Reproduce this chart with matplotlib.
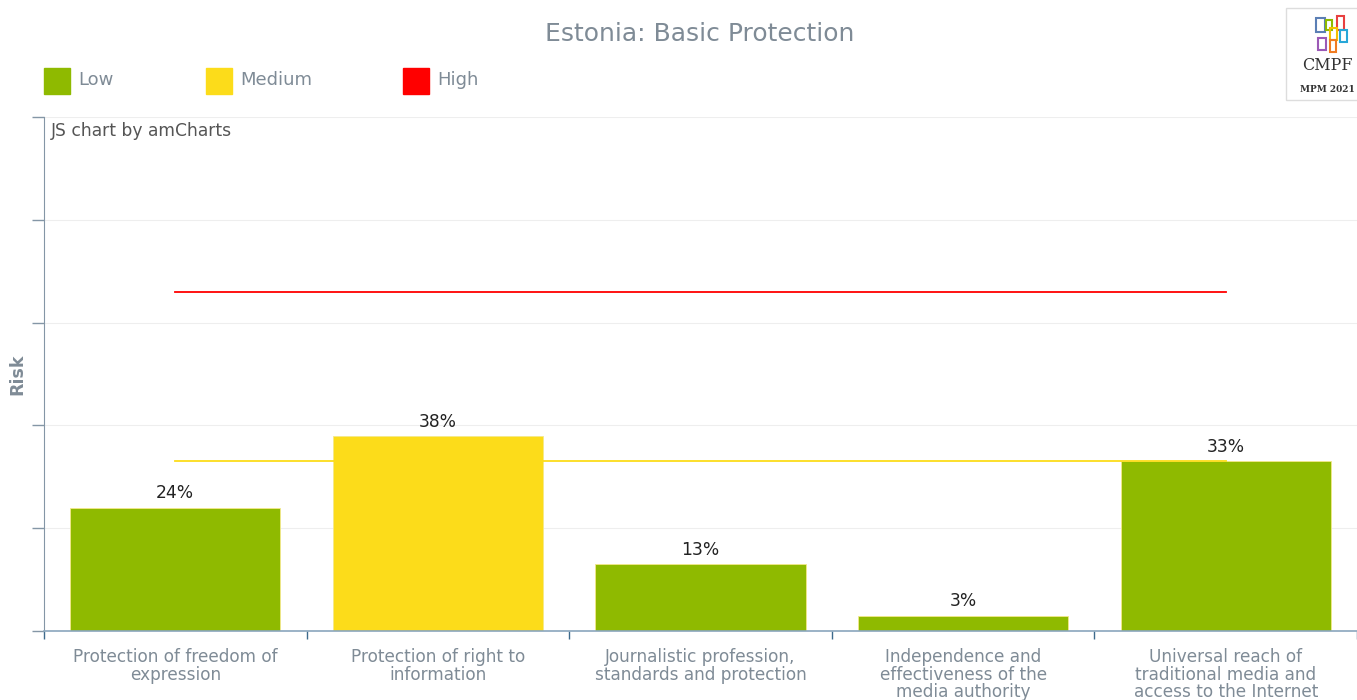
import matplotlib
matplotlib.use("Agg")
import matplotlib.pyplot as plt
from matplotlib.patches import Rectangle

categories = [
    "Protection of freedom of\nexpression",
    "Protection of right to\ninformation",
    "Journalistic profession,\nstandards and protection",
    "Independence and\neffectiveness of the\nmedia authority",
    "Universal reach of\ntraditional media and\naccess to the Internet",
]
values = [24, 38, 13, 3, 33]
levels = ["Low", "Medium", "Low", "Low", "Low"]
medium_threshold = 33
high_threshold = 66

GREEN = "#8fba00"
YELLOW = "#fcdc1a"
RED = "#ff0000"
TXT = "#7f8b96"
AXIS = "#8496a6"
level_color = {"Low": GREEN, "Medium": YELLOW, "High": RED}

W, H = 1357, 700
fig = plt.figure(figsize=(W / 100, H / 100), dpi=100, facecolor="white")
ax = fig.add_axes([44 / W, 69 / H, (W - 44) / W, 514 / H])

x = list(range(len(values)))
ax.bar(x, values, width=0.8, color=[level_color[l] for l in levels],
       edgecolor="#f4e98a", linewidth=0.6, zorder=2)
for xi, v in zip(x, values):
    ax.text(xi, v + 1.0, f"{v}%", ha="center", va="bottom", fontsize=12.3,
            color="#222222")

ax.plot([x[0], x[-1]], [medium_threshold] * 2, color=YELLOW, lw=1.3, zorder=3)
ax.plot([x[0], x[-1]], [high_threshold] * 2, color=RED, lw=1.3, zorder=3)

ax.set_xlim(-0.5, len(values) - 0.5)
ax.set_ylim(0, 100)
ax.set_yticks([0, 20, 40, 60, 80, 100])
ax.set_yticklabels([])
ax.grid(axis="y", color="#eeeeee", lw=0.8, zorder=0)
ax.set_axisbelow(True)

ax.set_xticks([i - 0.5 for i in range(len(values) + 1)])
ax.set_xticklabels([])
ax.tick_params(axis="x", direction="out", length=6, color="#3d6a8c", width=1)
ax.tick_params(axis="y", direction="out", length=9, color=AXIS, width=1)
for s in ("top", "right"):
    ax.spines[s].set_visible(False)
ax.spines["left"].set_color(AXIS)
ax.spines["bottom"].set_color("#8aa6bd")
ax.spines["bottom"].set_linewidth(1.2)

for xi, lab in zip(x, categories):
    ax.text(xi, -3.3, lab, ha="center", va="top", fontsize=12.2, color=TXT,
            linespacing=0.98, clip_on=False)

ax.set_ylabel("Risk", fontsize=12.5, color=TXT, fontweight="bold")
ax.yaxis.set_label_coords(-18 / (W - 44), 0.5)
ax.text(0.005, 0.99, "JS chart by amCharts", transform=ax.transAxes,
        ha="left", va="top", fontsize=12.3, color="#555555")

fig.text(700 / W, 1 - 34 / H, "Estonia: Basic Protection", ha="center",
         va="center", fontsize=18, color=TXT)

# legend
for lx, lab, col in ((44, "Low", GREEN), (206, "Medium", YELLOW), (403, "High", RED)):
    fig.patches.append(Rectangle((lx / W, 1 - 94 / H), 26 / W, 26 / H,
                                 transform=fig.transFigure, color=col))
    fig.text((lx + 34) / W, 1 - 80 / H, lab, ha="left", va="center",
             fontsize=13, color=TXT)

# logo box
fig.patches.append(Rectangle((1286 / W, 1 - 100 / H), 80 / W, 92 / H,
                             transform=fig.transFigure, facecolor="white",
                             edgecolor="#dddddd", lw=1))
for (bx, by, bw, bh, c) in ((1316, 18, 9, 14, "#5b7fb5"), (1326, 20, 6, 10, "#8fba00"),
                            (1337, 16, 7, 14, "#e84040"), (1330, 28, 7, 12, "#f2c200"),
                            (1340, 30, 7, 12, "#27a7d8"), (1318, 38, 8, 12, "#9b59b6"),
                            (1330, 40, 6, 12, "#f07c22")):
    fig.patches.append(Rectangle((bx / W, 1 - (by + bh) / H), bw / W, bh / H,
                                 transform=fig.transFigure, facecolor="none",
                                 edgecolor=c, lw=1.5))
fig.text(1327 / W, 1 - 66 / H, "CMPF", ha="center", va="center", fontsize=11.5,
         family="DejaVu Serif", color="#333333")
fig.text(1327 / W, 1 - 89 / H, "MPM 2021", ha="center", va="center", fontsize=6.5,
         family="DejaVu Serif", fontweight="bold", color="#333333")

fig.savefig("out.png", dpi=100, facecolor="white")
